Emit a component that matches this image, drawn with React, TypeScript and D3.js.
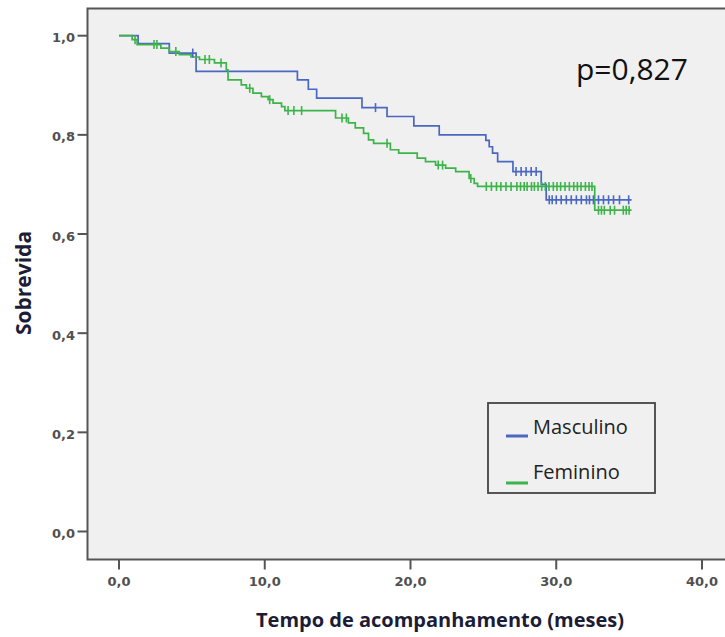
import React from "react";
import * as d3 from "d3";

// Masculino (blue) step curve: event times (months) and survival after each step
const mascTimes = [0, 1.31, 3.45, 5.29, 12.24, 12.99, 13.56, 16.67, 18.39, 20.23, 21.97, 25.17, 25.4, 25.63, 25.98, 27.03, 28.97, 29.31, 35.17];
const mascSurv = [1.0, 0.984, 0.965, 0.928, 0.911, 0.892, 0.874, 0.855, 0.837, 0.818, 0.8, 0.789, 0.776, 0.763, 0.746, 0.726, 0.7, 0.669, 0.669];
const mascCensor = [5.06, 17.6, 27.24, 27.59, 27.93, 28.28, 28.62, 29.52, 29.72, 30.0, 30.34, 30.69, 31.03, 31.38, 31.72, 32.07, 32.28, 32.55, 32.9, 33.24, 33.59, 33.93, 34.34, 34.97];

// Feminino (green) step curve
const femTimes = [0, 0.9, 1.24, 2.87, 3.45, 4.14, 4.94, 5.52, 6.55, 7.36, 7.48, 8.39, 8.74, 9.19, 9.77, 10.23, 10.57, 11.15, 11.38, 14.86, 15.74, 16.21, 16.78, 17.12, 17.47, 18.62, 19.19, 20.46, 21.03, 21.72, 22.41, 23.1, 24.02, 24.37, 24.6, 32.64, 35.17];
const femSurv = [1.0, 0.992, 0.982, 0.975, 0.968, 0.962, 0.957, 0.952, 0.945, 0.931, 0.911, 0.901, 0.894, 0.884, 0.877, 0.871, 0.864, 0.857, 0.849, 0.834, 0.824, 0.814, 0.803, 0.79, 0.783, 0.77, 0.763, 0.753, 0.746, 0.739, 0.733, 0.726, 0.712, 0.702, 0.696, 0.648, 0.648];
const femCensor = [1.1, 2.4, 2.6, 3.9, 5.9, 6.2, 7.0, 8.97, 10.34, 11.6, 12.0, 12.53, 15.3, 15.6, 18.39, 21.9, 22.2, 24.14, 25.2, 25.55, 25.9, 26.2, 26.55, 26.9, 27.3, 27.55, 27.8, 28.0, 28.3, 28.5, 28.75, 29.0, 29.25, 29.5, 29.8, 30.05, 30.3, 30.6, 30.9, 31.2, 31.45, 31.7, 32.0, 32.25, 32.45, 32.9, 33.1, 33.3, 33.7, 34.0, 34.6, 34.8, 35.0];

const xTicks = [0, 10, 20, 30, 40];
const yTicks = [0, 0.2, 0.4, 0.6, 0.8, 1.0];
const seriesNames = ["Masculino", "Feminino"];
const pLabel = "p=0,827";
const xTitle = "Tempo de acompanhamento (meses)";
const yTitle = "Sobrevida";

const BLUE = "#4a67c2";
const GREEN = "#3cb44a";

export default function App() {
  const W = 725, H = 637;
  const frame = { left: 87.5, top: 8.5, bottom: 559.5 };
  const x = d3.scaleLinear().domain([0, 40]).range([119, 702]);
  const y = d3.scaleLinear().domain([0, 1]).range([531.5, 35.7]);
  const fmt = (v: number) => v.toFixed(1).replace(".", ",");

  const line = d3.line<[number, number]>().x(d => x(d[0])).y(d => y(d[1])).curve(d3.curveStepAfter);
  const mascPts = mascTimes.map((t, i) => [t, mascSurv[i]] as [number, number]);
  const femPts = femTimes.map((t, i) => [t, femSurv[i]] as [number, number]);

  const survAt = (times: number[], surv: number[], t: number) => {
    const i = d3.bisectRight(times, t) - 1;
    return surv[Math.max(0, i)];
  };

  const censorMarks = (times: number[], surv: number[], cs: number[], color: string, key: string) =>
    cs.map((t, i) => {
      const cx = x(t), cy = y(survAt(times, surv, t));
      return <line key={key + i} x1={cx} x2={cx} y1={cy - 4.5} y2={cy + 4.5} stroke={color} strokeWidth={1.6} />;
    });

  const labelFont = "DejaVu Sans";
  const titleColor = "#1c1c36";

  return (
    <svg width={W} height={H} style={{ position: "absolute", left: 0, top: 0, background: "#fff" }}>
      <rect x={frame.left} y={frame.top} width={W - frame.left + 5} height={frame.bottom - frame.top} fill="#f0f0f0" stroke="#555" strokeWidth={2} />
      {yTicks.map(v => (
        <g key={"y" + v}>
          <line x1={frame.left - 10} x2={frame.left} y1={y(v)} y2={y(v)} stroke="#555" strokeWidth={2} />
          <text x={75} y={y(v) + 6.5} textAnchor="end" fontFamily={labelFont} fontWeight="bold" fontSize={13} fill="#505050">{fmt(v)}</text>
        </g>
      ))}
      {xTicks.map(v => (
        <g key={"x" + v}>
          <line x1={x(v)} x2={x(v)} y1={frame.bottom} y2={frame.bottom + 10} stroke="#555" strokeWidth={2} />
          <text x={x(v)} y={586} textAnchor="middle" fontFamily={labelFont} fontWeight="bold" fontSize={13} fill="#505050">{fmt(v)}</text>
        </g>
      ))}
      <path d={line(mascPts) || ""} fill="none" stroke={BLUE} strokeWidth={1.7} />
      <path d={line(femPts) || ""} fill="none" stroke={GREEN} strokeWidth={1.7} />
      {censorMarks(mascTimes, mascSurv, mascCensor, BLUE, "mc")}
      {censorMarks(femTimes, femSurv, femCensor, GREEN, "fc")}
      <text x={576} y={80} fontFamily="Open Sans" fontSize={30} fill="#111">{pLabel}</text>
      <rect x={488} y={403} width={167} height={90} fill="none" stroke="#444" strokeWidth={1.8} />
      <line x1={506} x2={528} y1={436} y2={436} stroke={BLUE} strokeWidth={3} />
      <line x1={506} x2={528} y1={483} y2={483} stroke={GREEN} strokeWidth={3} />
      <text x={533} y={434} fontFamily="Open Sans" fontSize={20} fill="#222">{seriesNames[0]}</text>
      <text x={533} y={479} fontFamily="Open Sans" fontSize={20} fill="#222">{seriesNames[1]}</text>
      <text x={440} y={627} textAnchor="middle" fontFamily="Open Sans" fontWeight={700} fontSize={20} fill={titleColor}>{xTitle}</text>
      <text transform="translate(31,283) rotate(-90)" textAnchor="middle" fontFamily="Open Sans" fontWeight={700} fontSize={21} fill={titleColor}>{yTitle}</text>
    </svg>
  );
}
